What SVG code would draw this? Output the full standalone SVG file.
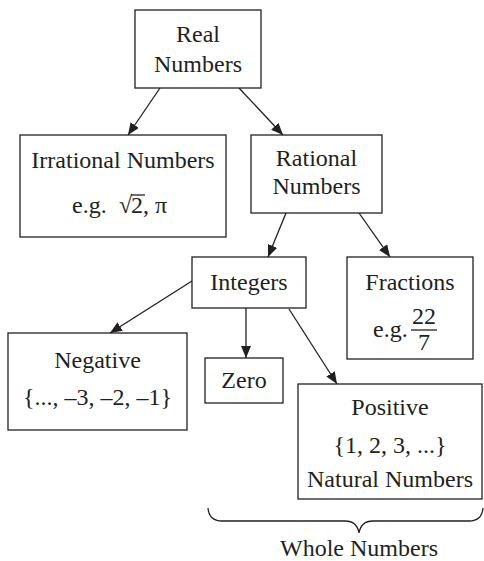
<svg xmlns="http://www.w3.org/2000/svg" width="484" height="561" viewBox="0 0 484 561">
<style>
.box{fill:#fff;stroke:#231f20;stroke-width:1.3}
.t{font-family:'Liberation Serif','Times New Roman','DejaVu Serif',serif;font-size:24px;fill:#231f20;text-anchor:middle}
.ts{font-family:'Liberation Serif','Times New Roman','DejaVu Serif',serif;font-size:24px;fill:#231f20}
.c{stroke:#231f20;stroke-width:1.3;fill:none}
</style>
<defs>
<marker id="ah" viewBox="0 0 12 10" refX="12" refY="5" markerWidth="12" markerHeight="10" markerUnits="userSpaceOnUse" orient="auto">
<path d="M0,0 L12,5 L0,10 Z" fill="#231f20"/>
</marker>
</defs>
<rect width="484" height="561" fill="#fff"/>
<g id="connectors">
<line class="c" x1="160" y1="88" x2="128" y2="135" marker-end="url(#ah)"/>
<line class="c" x1="239" y1="88" x2="283" y2="135" marker-end="url(#ah)"/>
<line class="c" x1="286" y1="213" x2="268" y2="257" marker-end="url(#ah)"/>
<line class="c" x1="359" y1="213" x2="390" y2="257" marker-end="url(#ah)"/>
<line class="c" x1="192" y1="281" x2="110" y2="333" marker-end="url(#ah)"/>
<line class="c" x1="246" y1="308" x2="246" y2="358" marker-end="url(#ah)"/>
<line class="c" x1="289" y1="309" x2="337" y2="384" marker-end="url(#ah)"/>
</g>
<g id="real">
<rect class="box" x="135" y="10" width="126" height="78"/>
<text class="t" x="198" y="42">Real</text>
<text class="t" x="198" y="72">Numbers</text>
</g>
<g id="irrational">
<rect class="box" x="20" y="135" width="206" height="102"/>
<text class="t" x="123" y="168">Irrational Numbers</text>
<text class="ts" x="72" y="213">e.g.</text>
<text class="ts" x="119" y="213">√</text>
<line class="c" x1="131" y1="195" x2="145" y2="195"/>
<text class="ts" x="131" y="213">2, π</text>
</g>
<g id="rational">
<rect class="box" x="251" y="135" width="131" height="78"/>
<text class="t" x="316.5" y="166">Rational</text>
<text class="t" x="316.5" y="194">Numbers</text>
</g>
<g id="integers">
<rect class="box" x="192" y="257" width="114" height="51"/>
<text class="t" x="249" y="290">Integers</text>
</g>
<g id="fractions">
<rect class="box" x="347" y="257" width="126" height="102"/>
<text class="t" x="410" y="290">Fractions</text>
<text class="ts" x="373" y="337">e.g.</text>
<text class="t" x="424" y="324">22</text>
<line class="c" x1="411" y1="330" x2="437" y2="330"/>
<text class="t" x="424" y="350">7</text>
</g>
<g id="negative">
<rect class="box" x="8" y="333" width="179" height="97"/>
<text class="t" x="97.5" y="368">Negative</text>
<text class="t" x="97.5" y="405">{..., –3, –2, –1}</text>
</g>
<g id="zero">
<rect class="box" x="205" y="358" width="78" height="45"/>
<text class="t" x="244" y="388">Zero</text>
</g>
<g id="positive">
<rect class="box" x="298" y="384" width="184" height="115"/>
<text class="t" x="390" y="415">Positive</text>
<text class="t" x="390" y="453">{1, 2, 3, ...}</text>
<text class="t" x="390" y="487">Natural Numbers</text>
</g>
<g id="whole">
<path class="c" d="M208,508 Q209,521 222,521 L345,521 Q357,521 359,533 Q361,521 373,521 L469,521 Q482,521 483,508"/>
<text class="t" x="359" y="556">Whole Numbers</text>
</g>
</svg>
